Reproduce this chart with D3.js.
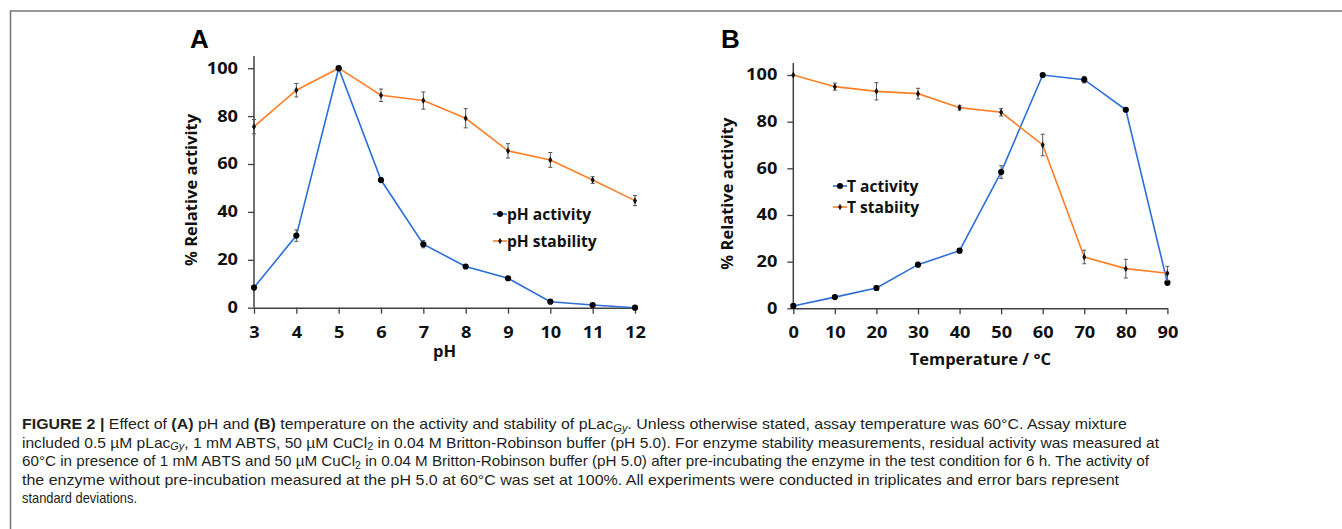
<!DOCTYPE html>
<html><head><meta charset="utf-8">
<script src="https://cdn.jsdelivr.net/npm/d3@7"></script>
<style>
html,body{margin:0;padding:0;background:#fff;}
svg{display:block;}
</style></head>
<body>
<svg id="c" width="1342" height="529"></svg>
<script>
// ---- Data ----
const phValues = [3,4,5,6,7,8,9,10,11,12];
const phActivity = [8.4,30.1,100,53.3,26.5,17.2,12.3,2.5,1.1,0];
const phActivityErr = [0.8,2.4,0.5,1.0,1.5,0.8,0.7,0.5,0.4,0.3];
const phStability = [75.6,90.8,100,88.7,86.5,79.1,65.5,61.7,53.3,44.7];
const phStabilityErr = [3.0,2.8,0.5,2.6,3.6,4.0,3.0,3.1,1.4,2.1];
const tempValues = [0,10,20,30,40,50,60,70,80,90];
const tActivity = [1,4.8,8.7,18.7,24.7,58.4,100,98,85.1,10.9];
const tActivityErr = [0.4,0.6,1.0,0.8,0.8,2.7,0.6,1.4,0.7,0.5];
const tStability = [100,95,93,92,86,84,70,22,17,15];
const tStabilityErr = [0.4,1.5,3.7,2.3,1.0,1.6,4.6,2.9,4.0,3.0];
const yTicks = [0,20,40,60,80,100];
const legendA = ["pH activity","pH stability"];
const legendB = ["T activity","T stabiity"];

const BLUE = "#2b6fd8", ORANGE = "#ff7f27";
const svg = d3.select("#c");

// frame
svg.append("path").attr("d","M10.5,529 L10.5,11 L1342,11").attr("fill","none").attr("stroke","#7a7a7a").attr("stroke-width",1.6);

const FONT = "'Open Sans', sans-serif";

function panel(cfg){
  const g = svg.append("g");
  const x = d3.scaleLinear().domain(cfg.xDomain).range(cfg.xRange);
  const y = d3.scaleLinear().domain([0,100]).range([cfg.y0, cfg.y100]);
  const yAxis = d3.axisLeft(y).tickValues(yTicks).tickSize(6).tickSizeOuter(0).tickPadding(10);
  const gy = g.append("g").attr("transform",`translate(${cfg.xRange[0]},0)`).call(yAxis);
  gy.select(".domain").attr("d",`M0,${cfg.axisTop}V${cfg.y0}`);
  const xAxis = d3.axisBottom(x).tickValues(cfg.xTicks).tickSize(6).tickSizeOuter(0).tickPadding(13);
  const gx = g.append("g").attr("transform",`translate(0,${cfg.y0})`).call(xAxis);
  [gy,gx].forEach(a=>{
    a.select(".domain").attr("stroke","#404040").attr("stroke-width",1.5);
    a.selectAll(".tick line").attr("stroke","#404040").attr("stroke-width",1.3);
    a.selectAll(".tick text").attr("font-family",FONT).attr("font-weight","bold").attr("font-size",15.5).attr("fill","#111")
      .each(function(){ const n=this.textContent.length; d3.select(this).attr("textLength",n*10.4).attr("lengthAdjust","spacingAndGlyphs"); });
  });
  g.append("text").attr("x",cfg.letterX).attr("y",48).text(cfg.letter)
    .attr("font-family","'Liberation Sans', Arial, sans-serif").attr("font-weight","bold").attr("font-size",26).attr("fill","#000");
  g.append("text").attr("transform",`translate(${cfg.yTitleX},${(cfg.y0+cfg.y100)/2+2}) rotate(-90)`)
    .attr("text-anchor","middle").text("% Relative activity")
    .attr("font-family",FONT).attr("font-weight","bold").attr("font-size",16.5).attr("fill","#111");
  g.append("text").attr("x",(cfg.xRange[0]+cfg.xRange[1])/2).attr("y",cfg.xTitleY).attr("text-anchor","middle").text(cfg.xTitle)
    .attr("font-family",FONT).attr("font-weight","bold").attr("font-size",16.5).attr("fill","#111");

  const series = [
    {vals: cfg.act, err: cfg.actErr, color: BLUE, big:true},
    {vals: cfg.stab, err: cfg.stabErr, color: ORANGE, big:false}
  ];
  const line = d3.line().x((d,i)=>x(cfg.xs[i])).y(d=>y(d));
  series.forEach(s=>{
    g.append("path").datum(s.vals).attr("d",line).attr("fill","none").attr("stroke",s.color).attr("stroke-width",1.6);
  });
  series.forEach(s=>{
    const eg = g.append("g");
    s.vals.forEach((v,i)=>{
      const cx = x(cfg.xs[i]), e = s.err[i];
      if(e>0.6){
        const y1=y(v+e), y2=y(v-e);
        eg.append("line").attr("x1",cx).attr("x2",cx).attr("y1",y1).attr("y2",y2).attr("stroke","#555").attr("stroke-width",1);
        eg.append("line").attr("x1",cx-2).attr("x2",cx+2).attr("y1",y1).attr("y2",y1).attr("stroke","#555").attr("stroke-width",1);
        eg.append("line").attr("x1",cx-2).attr("x2",cx+2).attr("y1",y2).attr("y2",y2).attr("stroke","#555").attr("stroke-width",1);
      }
      if(s.big){
        eg.append("circle").attr("cx",cx).attr("cy",y(v)).attr("r",3.1).attr("fill","#000");
      } else {
        eg.append("path").attr("d",d3.symbol(d3.symbolDiamond,14)()).attr("transform",`translate(${cx},${y(v)})`).attr("fill","#111");
      }
    });
  });
  const names = cfg.legend;
  [BLUE,ORANGE].forEach((c,i)=>{
    const ly = cfg.legY[i];
    g.append("line").attr("x1",cfg.legX).attr("x2",cfg.legX+14).attr("y1",ly).attr("y2",ly).attr("stroke",c).attr("stroke-width",1.6);
    if(i===0) g.append("circle").attr("cx",cfg.legX+7).attr("cy",ly).attr("r",3).attr("fill","#000");
    else g.append("path").attr("d",d3.symbol(d3.symbolDiamond,12)()).attr("transform",`translate(${cfg.legX+7},${ly})`).attr("fill","#111");
    g.append("text").attr("x",cfg.legX+14).attr("y",ly+6).text(names[i])
      .attr("font-family",FONT).attr("font-weight","bold").attr("font-size",15.6).attr("fill","#111");
  });
}

panel({
  xDomain:[3,12], xRange:[254,635], y0:307.7, y100:68.2, axisTop:56,
  xTicks: phValues, xs: phValues, act: phActivity, actErr: phActivityErr,
  stab: phStability, stabErr: phStabilityErr,
  letter:"A", letterX:190, yTitleX:197, xTitle:"pH", xTitleY:357,
  legend: legendA, legX:493, legY:[214,241]
});
panel({
  xDomain:[0,90], xRange:[793.3,1167.4], y0:308.3, y100:75, axisTop:63,
  xTicks: tempValues, xs: tempValues, act: tActivity, actErr: tActivityErr,
  stab: tStability, stabErr: tStabilityErr,
  letter:"B", letterX:721, yTitleX:733, xTitle:"Temperature / °C", xTitleY:365,
  legend: legendB, legX:833, legY:[186,207]
});

// caption
const CAP = "'Liberation Sans Narrow', 'Liberation Sans', Arial, sans-serif";
const capLines = [
  {y:429, w:1105, parts:[["FIGURE 2 |","b"],[" Effect of ",""],["(A)","b"],[" pH and ",""],["(B)","b"],[" temperature on the activity and stability of pLac",""],["Gy","sub"],[". Unless otherwise stated, assay temperature was 60°C. Assay mixture",""]]},
  {y:447.5, w:1137, parts:[["included 0.5 µM pLac",""],["Gy","sub"],[", 1 mM ABTS, 50 µM CuCl",""],["2","sub2"],[" in 0.04 M Britton-Robinson buffer (pH 5.0). For enzyme stability measurements, residual activity was measured at",""]]},
  {y:466, w:1127, parts:[["60°C in presence of 1 mM ABTS and 50 µM CuCl",""],["2","sub2"],[" in 0.04 M Britton-Robinson buffer (pH 5.0) after pre-incubating the enzyme in the test condition for 6 h. The activity of",""]]},
  {y:484.5, w:1097, parts:[["the enzyme without pre-incubation measured at the pH 5.0 at 60°C was set at 100%. All experiments were conducted in triplicates and error bars represent",""]]},
  {y:503, w:115, parts:[["standard deviations.",""]]}
];
capLines.forEach(L=>{
  const t = svg.append("text").attr("x",22).attr("y",L.y).attr("font-family",CAP).attr("font-size",15).attr("fill","#231f20")
    .attr("textLength",L.w).attr("lengthAdjust","spacingAndGlyphs");
  let prevSub = false;
  L.parts.forEach(([s,k])=>{
    const ts = t.append("tspan").text(s);
    if(k==="b") ts.attr("font-weight","bold");
    const isSub = (k==="sub"||k==="sub2");
    if(isSub){ ts.attr("font-size",10.5).attr("dy",2.5); if(k==="sub") ts.attr("font-style","italic"); }
    else if(prevSub){ ts.attr("dy",-2.5); }
    prevSub = isSub;
  });
});
</script>
</body></html>
